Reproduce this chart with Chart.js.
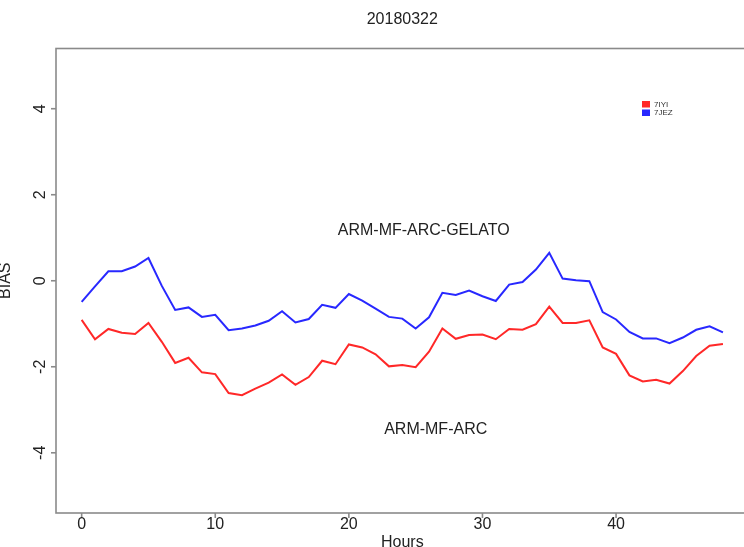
<!DOCTYPE html>
<html>
<head>
<meta charset="utf-8">
<script src="https://cdn.jsdelivr.net/npm/chart.js@4"></script>
<style>
  html, body { margin: 0; padding: 0; background: #fff; width: 744px; height: 547px; overflow: hidden; }
  #wrap { position: relative; width: 752px; height: 547px; }
  canvas { display: block; }
</style>
</head>
<body>
<div id="wrap"><canvas id="c" width="752" height="547"></canvas></div>
<script>
// Forecast hour of each value
const hours = [0, 1, 2, 3, 4, 5, 6, 7, 8, 9, 10, 11, 12, 13, 14, 15, 16, 17, 18, 19, 20,
  21, 22, 23, 24, 25, 26, 27, 28, 29, 30, 31, 32, 33, 34, 35, 36, 37, 38, 39, 40,
  41, 42, 43, 44, 45, 46, 47, 48];

// BIAS for ARM-MF-ARC (7IYI)
const bias7IYI = [-0.91, -1.36, -1.12, -1.21, -1.24, -0.98, -1.42, -1.91, -1.79, -2.13,
  -2.17, -2.61, -2.66, -2.51, -2.37, -2.18, -2.42, -2.24, -1.86, -1.94, -1.48,
  -1.55, -1.71, -1.99, -1.96, -2.01, -1.65, -1.11, -1.35, -1.26, -1.25,
  -1.36, -1.12, -1.14, -1.01, -0.60, -0.98, -0.98, -0.92, -1.55, -1.70,
  -2.20, -2.34, -2.30, -2.39, -2.10, -1.75, -1.51, -1.47];

// BIAS for ARM-MF-ARC-GELATO (7JEZ)
const bias7JEZ = [-0.49, -0.13, 0.22, 0.22, 0.33, 0.53, -0.12, -0.68, -0.62, -0.84,
  -0.79, -1.15, -1.11, -1.04, -0.93, -0.71, -0.97, -0.89, -0.56, -0.63, -0.31,
  -0.46, -0.65, -0.84, -0.88, -1.11, -0.85, -0.28, -0.33, -0.23, -0.36,
  -0.47, -0.09, -0.03, 0.26, 0.65, 0.05, 0.01, -0.01, -0.73, -0.90,
  -1.19, -1.34, -1.34, -1.45, -1.32, -1.14, -1.06, -1.20];

const xTicks = [0, 10, 20, 30, 40];
const yTicks = [-4, -2, 0, 2, 4];
const seriesNames = ['7IYI', '7JEZ'];
const seriesColors = ['rgb(255,40,40)', 'rgb(40,40,255)'];
const chartTitle = '20180322';
const xTitle = 'Hours';
const yTitle = 'BIAS';
const notes = [
  { text: 'ARM-MF-ARC-GELATO', x: 25.6, y: 1.17 },
  { text: 'ARM-MF-ARC', x: 26.5, y: -3.45 }
];

const FONT = '"Liberation Sans", Arial, sans-serif';

const toPoints = vals => hours.map((h, i) => ({ x: h, y: vals[i] }));

const framePlugin = {
  id: 'frame',
  afterDraw(chart) {
    const { ctx, chartArea: a, scales: { x, y } } = chart;
    ctx.save();

    // plot box
    ctx.strokeStyle = '#8a8a8a';
    ctx.lineWidth = 1.6;
    ctx.strokeRect(a.left, a.top, a.right - a.left, a.bottom - a.top);

    ctx.fillStyle = '#222';
    ctx.font = '16px ' + FONT;

    // x axis ticks and labels
    ctx.textAlign = 'center';
    ctx.textBaseline = 'alphabetic';
    xTicks.forEach(v => {
      const px = x.getPixelForValue(v);
      ctx.beginPath();
      ctx.moveTo(px, a.bottom);
      ctx.lineTo(px, a.bottom + 5);
      ctx.stroke();
      ctx.fillText(String(v), px, 528.5);
    });

    // y axis ticks and rotated labels
    yTicks.forEach(v => {
      const py = y.getPixelForValue(v);
      ctx.beginPath();
      ctx.moveTo(a.left, py);
      ctx.lineTo(a.left - 5, py);
      ctx.stroke();
      ctx.save();
      ctx.translate(45, py);
      ctx.rotate(-Math.PI / 2);
      ctx.fillText(String(v), 0, 0);
      ctx.restore();
    });

    const cx = (a.left + a.right) / 2;
    const cy = (a.top + a.bottom) / 2;

    // axis titles
    ctx.fillText(xTitle, cx, 546.5);
    ctx.save();
    ctx.translate(10, cy);
    ctx.rotate(-Math.PI / 2);
    ctx.fillText(yTitle, 0, 0);
    ctx.restore();

    // main title
    ctx.fillText(chartTitle, cx, 24);

    // run labels placed in data coordinates
    ctx.textBaseline = 'middle';
    notes.forEach(n => {
      ctx.fillText(n.text, x.getPixelForValue(n.x), y.getPixelForValue(n.y));
    });

    // legend
    ctx.font = '8px ' + FONT;
    ctx.textAlign = 'left';
    seriesNames.forEach((name, i) => {
      const ly = 104 + i * 8.5;
      ctx.fillStyle = seriesColors[i];
      ctx.fillRect(642, ly - 3, 8, 6.5);
      ctx.fillStyle = '#333';
      ctx.fillText(name, 654, ly + 0.5);
    });

    ctx.restore();
  }
};

new Chart(document.getElementById('c'), {
  type: 'line',
  data: {
    datasets: [
      { label: seriesNames[0], data: toPoints(bias7IYI), borderColor: seriesColors[0], borderWidth: 2, pointRadius: 0, tension: 0, fill: false },
      { label: seriesNames[1], data: toPoints(bias7JEZ), borderColor: seriesColors[1], borderWidth: 2, pointRadius: 0, tension: 0, fill: false }
    ]
  },
  options: {
    responsive: false,
    animation: false,
    devicePixelRatio: 1,
    layout: { padding: { left: 56, top: 48.5, right: 3.4, bottom: 34 } },
    scales: {
      x: { type: 'linear', min: -1.92, max: 49.92, display: false },
      y: { type: 'linear', min: -5.4, max: 5.4, display: false }
    },
    plugins: {
      legend: { display: false },
      title: { display: false },
      tooltip: { enabled: false }
    }
  },
  plugins: [framePlugin]
});
</script>
</body>
</html>
